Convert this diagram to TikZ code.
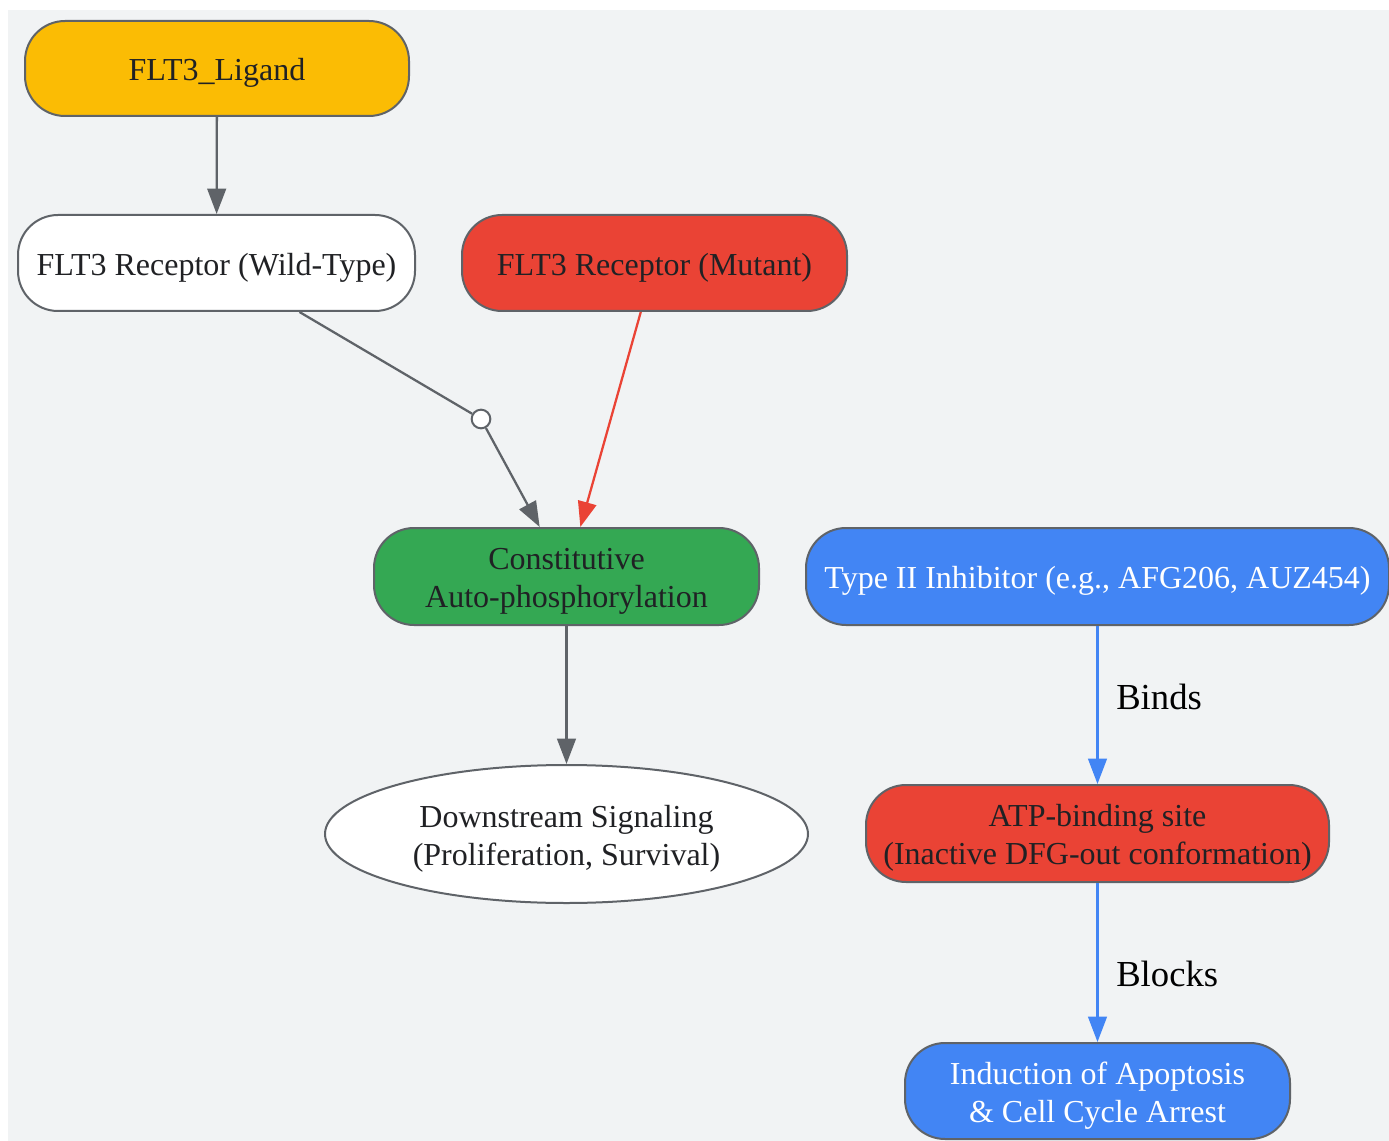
\documentclass[tikz,border=0pt]{standalone}
\usepackage{fontspec}
\setmainfont{Liberation Serif}
\usetikzlibrary{arrows.meta,shapes.geometric}
\definecolor{bgc}{HTML}{F1F3F4}
\definecolor{gyel}{HTML}{FBBC04}
\definecolor{gred}{HTML}{EA4335}
\definecolor{ggreen}{HTML}{34A853}
\definecolor{gblue}{HTML}{4285F4}
\definecolor{ggray}{HTML}{5F6368}
\definecolor{gtext}{HTML}{202124}
\newcommand\lowtxt[2][6.8pt]{\raisebox{0pt}[\dimexpr\height+#1\relax][\depth]{\begin{tabular}{@{}c@{}}#2\end{tabular}}}
\tikzset{
  box/.style={draw=ggray, line width=1.5pt, rounded corners=30pt, inner sep=0pt,
    font=\fontsize{24}{28.5}\selectfont, text=gtext},
  oval/.style={draw=ggray, line width=1.5pt, ellipse, inner sep=0pt, fill=white,
    font=\fontsize{24}{28.5}\selectfont, text=gtext},
  conn/.style={line width=1.7pt, draw=ggray, -{Triangle[length=19pt,width=14pt]}},
  plain/.style={line width=1.7pt, draw=ggray},
  elab/.style={font=\fontsize{27.5}{32}\selectfont, text=black, inner sep=0pt, anchor=west},
}
\begin{document}
\begin{tikzpicture}[x=0.75pt,y=-0.75pt]
\useasboundingbox (0,0) rectangle (1389,1141);
\fill[bgc] (8,10) rectangle (1389,1141);
\node[box, fill=gyel, minimum width=288pt, minimum height=71.25pt] (lig) at (217,68.5) {\lowtxt{FLT3\_Ligand}};
\node[box, fill=white, minimum width=297.75pt, minimum height=72pt] (wt) at (216.5,263) {\lowtxt{FLT3 Receptor (Wild-Type)}};
\node[box, fill=gred, minimum width=288.75pt, minimum height=72pt] (mut) at (654.5,263) {\lowtxt{FLT3 Receptor (Mutant)}};
\node[box, fill=ggreen, minimum width=288.75pt, minimum height=72.75pt] (con) at (566.5,576.5) {\lowtxt{Constitutive\\Auto-phosphorylation}};
\node[box, fill=gblue, text=white, minimum width=437.25pt, minimum height=72.75pt] (inh) at (1097.5,576.5) {\lowtxt{Type II Inhibitor (e.g., AFG206, AUZ454)}};
\node[oval, minimum width=362.25pt, minimum height=103.5pt] (down) at (566.5,834) {\lowtxt[8pt]{Downstream Signaling\\(Proliferation, Survival)}};
\node[box, fill=gred, minimum width=347.25pt, minimum height=72.75pt] (atp) at (1097.5,833.5) {\lowtxt{ATP-binding site\\(Inactive DFG-out conformation)}};
\node[box, fill=gblue, text=white, minimum width=288.75pt, minimum height=72pt] (ind) at (1097.5,1091) {\lowtxt{Induction of Apoptosis\\\& Cell Cycle Arrest}};
\node[circle, draw=ggray, line width=1.5pt, fill=white, inner sep=0pt, minimum size=14pt] (j) at (481,419) {};
\draw[conn] (lig) -- (wt);
\draw[plain] (wt) -- (j);
\draw[conn] (j) -- (con);
\draw[conn, draw=gred, fill=gred] (mut) -- (con);
\draw[conn] (con) -- (down);
\draw[conn, draw=gblue, fill=gblue] (inh) -- (atp);
\draw[conn, draw=gblue, fill=gblue] (atp) -- (ind);
\node[elab] (lb1) at (1116,697) {Binds};
\node[elab] (lb2) at (1116,974) {Blocks};
\end{tikzpicture}
\end{document}
